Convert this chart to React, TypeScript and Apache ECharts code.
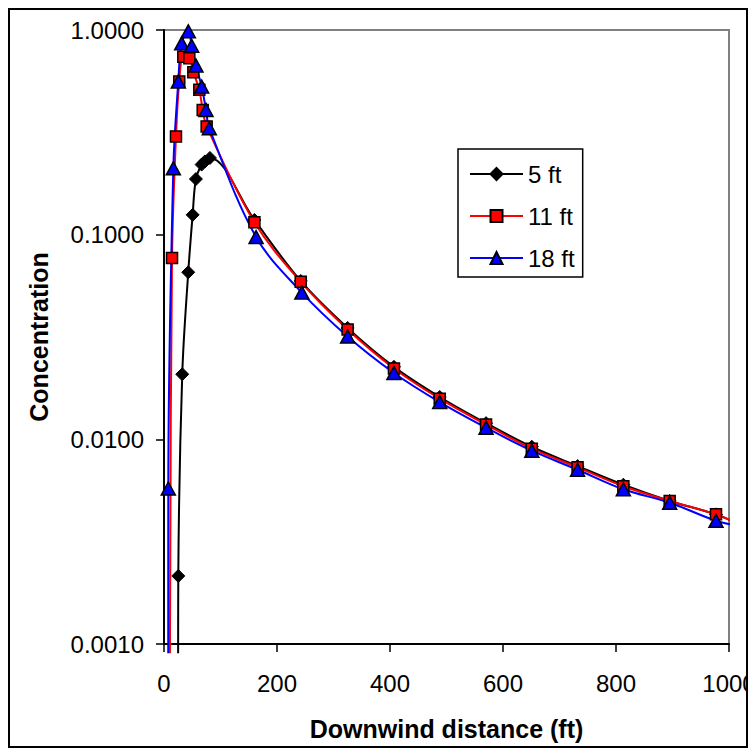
import React, { useEffect, useRef } from "react";
import * as echarts from "echarts";

// Downwind distance (ft) and concentration for each release height.
// The first and last point of every series only carry the line past the plot edges (no marker).
const dist5 = [25, 25.3, 32.3, 42.9, 50.7, 56.5, 66.6, 72.4, 81.3, 160, 242, 325, 407, 488, 570, 651, 732, 813, 895, 977, 1013];
const conc5 = [0.0009, 0.00215, 0.0208, 0.0655, 0.125, 0.187, 0.22, 0.228, 0.237, 0.118, 0.0594, 0.035, 0.0226, 0.0161, 0.012, 0.0092, 0.0074, 0.006, 0.005, 0.0043, 0.0039];

const dist11 = [10.5, 14.2, 21.2, 27, 34.2, 44.8, 51.9, 62.5, 68.5, 75.5, 160, 242, 325, 407, 488, 570, 651, 732, 813, 895, 977, 1013];
const conc11 = [0.0009, 0.0769, 0.302, 0.56, 0.741, 0.728, 0.622, 0.51, 0.407, 0.338, 0.115, 0.0588, 0.0344, 0.0222, 0.0158, 0.0118, 0.009, 0.0073, 0.0059, 0.005, 0.0043, 0.0039];

const dist18 = [7.5, 7.6, 16.5, 25.3, 31.3, 43, 49, 56.6, 66.7, 74.3, 80.2, 163, 244, 325, 407, 488, 570, 651, 732, 813, 895, 977, 1013];
const conc18 = [0.0009, 0.00575, 0.211, 0.56, 0.861, 0.985, 0.838, 0.67, 0.529, 0.407, 0.331, 0.0974, 0.0521, 0.0318, 0.0211, 0.0152, 0.0114, 0.0088, 0.0071, 0.0057, 0.0049, 0.004, 0.0038];

const seriesNames = ["5 ft", "11 ft", "18 ft"];
const xTicks = { min: 0, max: 1000, interval: 200 };
const yRange = { min: 0.001, max: 1 };

const FONT = '"Liberation Sans", Arial, sans-serif';

function buildData(xs: number[], ys: number[]) {
  return xs.map((x, i) => {
    const edge = i === 0 || i === xs.length - 1;
    return edge ? { value: [x, ys[i]], symbol: "none" } : { value: [x, ys[i]] };
  });
}

export default function App() {
  const ref = useRef<HTMLDivElement>(null);

  useEffect(() => {
    if (!ref.current) return;
    const chart = echarts.init(ref.current, null, { renderer: "svg" });
    const common = {
      type: "line",
      smooth: 0.35,
      clip: false,
      showAllSymbol: true,
    };
    chart.setOption({
      animation: false,
      backgroundColor: "transparent",
      textStyle: { fontFamily: FONT },
      grid: {
        left: 154,
        top: 20,
        right: 27,
        bottom: 102,
        containLabel: false,
        outerBoundsMode: "none",
        show: true,
        borderColor: "#808080",
        borderWidth: 2,
        backgroundColor: "#ffffff",
      },
      legend: {
        data: seriesNames,
        orient: "vertical",
        left: 448,
        top: 139,
        itemWidth: 53,
        itemHeight: 15,
        itemGap: 18,
        padding: [13, 8, 7, 11],
        borderColor: "#000000",
        borderWidth: 1.5,
        backgroundColor: "#ffffff",
        textStyle: { fontFamily: FONT, fontSize: 24, color: "#000000" },
      },
      xAxis: {
        type: "value",
        min: xTicks.min,
        max: xTicks.max,
        interval: xTicks.interval,
        name: "Downwind distance (ft)",
        nameLocation: "middle",
        nameGap: 72,
        nameTextStyle: { fontFamily: FONT, fontSize: 25, fontWeight: "bold", color: "#000000" },
        axisLine: { show: true, onZero: false, lineStyle: { color: "#000000", width: 2 } },
        axisTick: { show: true, inside: false, length: 8, lineStyle: { color: "#000000", width: 1.5 } },
        axisLabel: {
          margin: 27,
          fontFamily: FONT,
          fontSize: 24,
          color: "#000000",
          formatter: (v: number) => String(Math.round(v)),
        },
        splitLine: { show: false },
      },
      yAxis: {
        type: "log",
        logBase: 10,
        min: yRange.min,
        max: yRange.max,
        name: "Concentration",
        nameLocation: "middle",
        nameGap: 113,
        nameTextStyle: { fontFamily: FONT, fontSize: 25, fontWeight: "bold", color: "#000000" },
        axisLine: { show: true, onZero: false, lineStyle: { color: "#000000", width: 2 } },
        axisTick: { show: true, inside: false, length: 8, lineStyle: { color: "#000000", width: 1.5 } },
        axisLabel: {
          margin: 20,
          fontFamily: FONT,
          fontSize: 24,
          color: "#000000",
          formatter: (v: number) => Number(v).toFixed(4),
        },
        splitLine: { show: false },
        minorTick: { show: false },
      },
      series: [
        {
          ...common,
          name: seriesNames[0],
          data: buildData(dist5, conc5),
          symbol: "diamond",
          symbolSize: 13,
          lineStyle: { color: "#000000", width: 2 },
          itemStyle: { color: "#000000", borderColor: "#000000", borderWidth: 1 },
        },
        {
          ...common,
          name: seriesNames[1],
          data: buildData(dist11, conc11),
          symbol: "rect",
          symbolSize: 11,
          lineStyle: { color: "#ff0000", width: 2 },
          itemStyle: { color: "#ff0000", borderColor: "#000000", borderWidth: 1.5 },
        },
        {
          ...common,
          name: seriesNames[2],
          data: buildData(dist18, conc18),
          symbol: "triangle",
          symbolSize: [14, 13],
          lineStyle: { color: "#0000ff", width: 2 },
          itemStyle: { color: "#0000ff", borderColor: "#000000", borderWidth: 1.5 },
        },
      ],
    });
    return () => chart.dispose();
  }, []);

  return (
    <div style={{ position: "relative", width: 740, height: 740 }}>
      <div
        style={{
          position: "absolute",
          left: 0,
          top: 0,
          width: 740,
          height: 740,
          boxSizing: "border-box",
          border: "2px solid #000000",
          background: "#ffffff",
        }}
      />
      <div
        ref={ref}
        style={{ position: "absolute", left: 2, top: 2, width: 746, height: 736, zIndex: 1 }}
      />
    </div>
  );
}
